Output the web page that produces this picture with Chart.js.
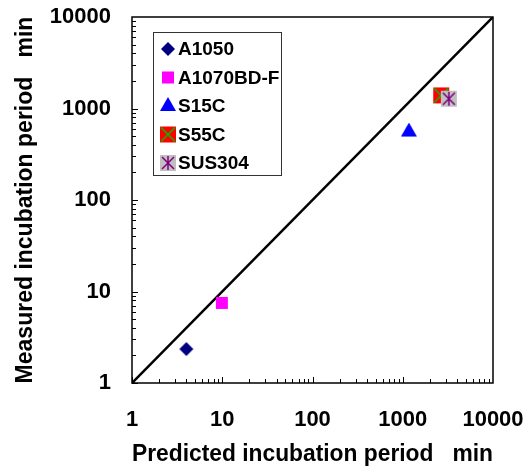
<!DOCTYPE html>
<html>
<head>
<meta charset="utf-8">
<script src="https://cdn.jsdelivr.net/npm/chart.js@4"></script>
<style>
  html, body { margin: 0; padding: 0; background: #fff; }
  #wrap { width: 529px; height: 470px; }
</style>
</head>
<body>
<div id="wrap"><canvas id="c" width="529" height="470"></canvas></div>
<script>
// Series names and values (minutes)
const seriesNames = ['A1050', 'A1070BD-F', 'S15C', 'S55C', 'SUS304'];
const predicted = [4, 9.9, 1170, 2670, 3240];
const measured = [2.35, 7.5, 560, 1390, 1280];
const tickValues = [1, 10, 100, 1000, 10000];
const lineOfEquality = [1, 10000];

const FONT = "'Liberation Sans', Arial, sans-serif";

// Marker pictures, one per material
function makeMarker(kind) {
    const s = 18;
    const cv = document.createElement('canvas');
    cv.width = s; cv.height = s;
    const g = cv.getContext('2d');
    const c = s / 2;
    if (kind === 'diamond') {
        g.fillStyle = '#000080';
        g.beginPath();
        g.moveTo(c, c - 7); g.lineTo(c + 7, c); g.lineTo(c, c + 7); g.lineTo(c - 7, c);
        g.closePath(); g.fill();
    } else if (kind === 'square') {
        g.fillStyle = '#ff00ff';
        g.fillRect(c - 6, c - 6, 12, 12);
    } else if (kind === 'triangle') {
        g.fillStyle = '#0000ff';
        g.beginPath();
        g.moveTo(c, c - 9); g.lineTo(c + 8, c + 5); g.lineTo(c - 8, c + 5);
        g.closePath(); g.fill();
    } else if (kind === 'xbox') {
        g.fillStyle = '#ff0000';
        g.fillRect(c - 8, c - 8, 16, 16);
        g.strokeStyle = '#00c000';
        g.lineWidth = 1.5;
        g.beginPath();
        g.moveTo(c - 7, c - 7); g.lineTo(c + 7, c + 7);
        g.moveTo(c + 7, c - 7); g.lineTo(c - 7, c + 7);
        g.stroke();
    } else if (kind === 'starbox') {
        g.fillStyle = '#c0c0c0';
        g.fillRect(c - 8, c - 8, 16, 16);
        g.strokeStyle = '#800080';
        g.lineWidth = 1.5;
        g.beginPath();
        g.moveTo(c, c - 7); g.lineTo(c, c + 7);
        g.moveTo(c - 6, c - 6); g.lineTo(c + 6, c + 6);
        g.moveTo(c + 6, c - 6); g.lineTo(c - 6, c + 6);
        g.stroke();
    }
    return cv;
}

const markers = ['diamond', 'square', 'triangle', 'xbox', 'starbox'].map(makeMarker);

const pointSets = seriesNames.map((name, i) => ({
    label: name,
    data: [{ x: predicted[i], y: measured[i] }],
    pointStyle: markers[i],
    pointRadius: 9,
    order: 5 - i,
    showLine: false
}));

const diagonal = {
    label: 'y = x',
    data: lineOfEquality.map(v => ({ x: v, y: v })),
    showLine: true,
    borderColor: '#000',
    borderWidth: 2.5,
    pointRadius: 0,
    order: 10
};

// Frame, inward tick marks and the boxed legend
const framePlugin = {
    id: 'frame',
    afterDatasetsDraw(chart) {
        const { ctx, chartArea: a, scales: { x, y } } = chart;
        ctx.save();
        ctx.strokeStyle = '#000';
        ctx.lineWidth = 1;
        ctx.beginPath();
        for (let d = 1; d < 10000; d *= 10) {
            for (let m = 1; m <= 9; m++) {
                const len = m === 1 ? 6 : 4;
                const px = Math.round(x.getPixelForValue(d * m)) + 0.5;
                ctx.moveTo(px, a.bottom); ctx.lineTo(px, a.bottom - len);
                const py = Math.round(y.getPixelForValue(d * m)) + 0.5;
                ctx.moveTo(a.left, py); ctx.lineTo(a.left + len, py);
            }
        }
        ctx.stroke();
        ctx.lineWidth = 1.5;
        ctx.strokeRect(a.left, a.top, a.right - a.left, a.bottom - a.top);

        // legend
        const lx = 153, ly = 32, lw = 128, lh = 143;
        ctx.fillStyle = '#fff';
        ctx.fillRect(lx, ly, lw, lh);
        ctx.strokeStyle = '#333';
        ctx.lineWidth = 1;
        ctx.strokeRect(lx + 0.5, ly + 0.5, lw, lh);
        ctx.font = 'bold 19px ' + FONT;
        ctx.fillStyle = '#000';
        ctx.textBaseline = 'middle';
        ctx.textAlign = 'left';
        seriesNames.forEach((name, i) => {
            const cy = 49 + i * 28.5;
            const mk = markers[i];
            ctx.drawImage(mk, 168 - mk.width / 2, cy - mk.height / 2);
            ctx.fillText(name, 178, cy + 1);
        });
        ctx.restore();
    }
};

new Chart(document.getElementById('c'), {
    type: 'scatter',
    data: { datasets: [...pointSets, diagonal] },
    options: {
        responsive: false,
        animation: false,
        devicePixelRatio: 1,
        layout: { padding: { left: 0, right: 36, top: 17, bottom: 0 } },
        plugins: { legend: { display: false }, tooltip: { enabled: false } },
        scales: {
            x: {
                type: 'logarithmic',
                min: 1, max: 10000,
                grid: { display: false },
                border: { display: false },
                afterBuildTicks: s => { s.ticks = tickValues.map(v => ({ value: v })); },
                afterFit: s => { s.height = 87; s.paddingLeft = 0; s.paddingRight = 0; },
                ticks: {
                    callback: v => String(v),
                    font: { family: FONT, size: 22, weight: 'bold' },
                    color: '#000',
                    padding: 16,
                    maxRotation: 0,
                    autoSkip: false
                },
                title: {
                    display: true,
                    text: 'Predicted incubation period   min',
                    font: { family: FONT, size: 23, weight: 'bold' },
                    color: '#000',
                    padding: { top: 0, bottom: 2 }
                }
            },
            y: {
                type: 'logarithmic',
                min: 1, max: 10000,
                grid: { display: false },
                border: { display: false },
                afterBuildTicks: s => { s.ticks = tickValues.map(v => ({ value: v })); },
                afterFit: s => { s.width = 132; s.paddingTop = 0; s.paddingBottom = 0; },
                ticks: {
                    callback: v => String(v),
                    font: { family: FONT, size: 22, weight: 'bold' },
                    color: '#000',
                    padding: 13,
                    autoSkip: false
                },
                title: {
                    display: true,
                    text: 'Measured incubation period   min',
                    font: { family: FONT, size: 23, weight: 'bold' },
                    color: '#000',
                    padding: { top: 12, bottom: 0 }
                }
            }
        }
    },
    plugins: [framePlugin]
});
</script>
</body>
</html>
